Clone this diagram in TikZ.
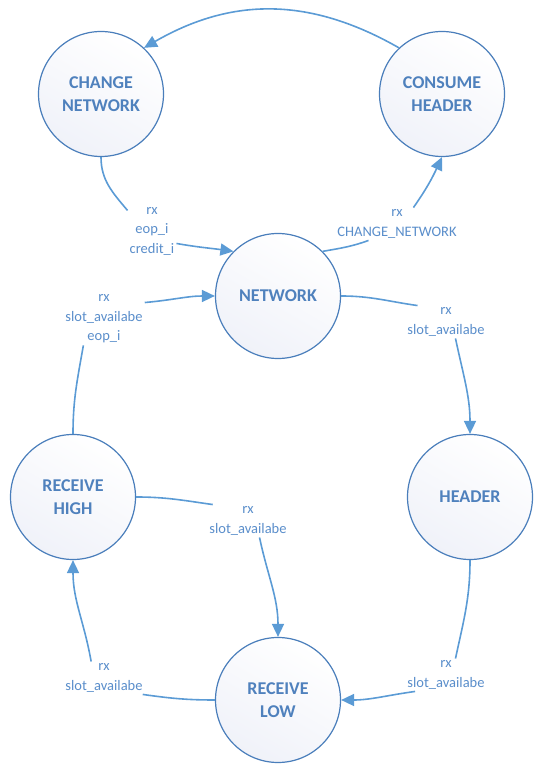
\documentclass[tikz,border=0pt]{standalone}
\usepackage{fontspec}
\setmainfont{Carlito}
\usetikzlibrary{arrows.meta}
\definecolor{edgeblue}{HTML}{5B9BD5}
\definecolor{ringblue}{HTML}{4A7EBB}
\definecolor{textblue}{HTML}{4F81BD}
\definecolor{lblblue}{HTML}{5A8ECB}
\definecolor{fillhaze}{HTML}{F0F2F9}
\begin{document}
\begin{tikzpicture}[x=1pt,y=1pt,
  state/.style={circle, draw=ringblue, line width=1.2pt, minimum size=125pt,
    inner sep=0pt, align=center, text=textblue,
    top color=white, bottom color=fillhaze, shading angle=-30,
    font=\fontsize{18}{23.5}\selectfont\bfseries},
  lbl/.style={fill=white, inner sep=2pt, align=center, text=lblblue,
    font=\fontsize{14.5}{19.5}\selectfont},
  conn/.style={draw=edgeblue, line width=1.6pt},
  arr/.style={conn, -{Triangle[length=13pt,width=12pt]}}]
\useasboundingbox (0,0) rectangle (552,765);

% states
\node[state] (CN)  at (101,671) {CHANGE\\NETWORK};
\node[state] (CH)  at (442,671) {CONSUME\\HEADER};
\node[state] (N)   at (278,469) {NETWORK};
\node[state] (RH)  at (73,268)  {RECEIVE\\HIGH};
\node[state] (H)   at (470,268) {HEADER};
\node[state] (RL)  at (278,65)  {RECEIVE\\LOW};

% transition conditions
\node[lbl] (Lcn)  at (152,534) {rx\\eop\_i\\credit\_i};
\node[lbl] (Lnc)  at (397,541) {rx\\CHANGE\_NETWORK};
\node[lbl] (Lrn)  at (104,446) {rx\\slot\_availabe\\eop\_i};
\node[lbl] (Lnh)  at (446,443) {rx\\slot\_availabe};
\node[lbl] (Lrhl) at (248,244) {rx\\slot\_availabe};
\node[lbl] (Lhl)  at (446,90)  {rx\\slot\_availabe};
\node[lbl] (Llh)  at (104,87)  {rx\\slot\_availabe};

% CONSUME HEADER -> CHANGE NETWORK
\draw[arr] (CH.133) .. controls (310,768) and (232,768) .. (CN.47);

% CHANGE NETWORK -> NETWORK
\draw[conn] (CN.south) to[out=-90,in=130] (Lcn.140);
\draw[arr] (Lcn.-27) to[out=-10,in=172] (N.135);

% NETWORK -> CONSUME HEADER
\draw[conn] (N.45) to[out=10,in=200] (Lnc.210);
\draw[arr] (Lnc.45) to[out=55,in=-115] (CH.south);

% RECEIVE HIGH -> NETWORK
\draw[conn] (RH.north) to[out=90,in=-100] (Lrn.232);
\draw[arr] (Lrn.22) to[out=5,in=180] (N.west);

% NETWORK -> HEADER
\draw[conn] (N.east) to[out=0,in=172] (Lnh.150);
\draw[arr] (Lnh.-60) to[out=-78,in=90] (H.north);

% RECEIVE HIGH -> RECEIVE LOW
\draw[conn] (RH.east) to[out=0,in=172] (Lrhl.155);
\draw[arr] (Lrhl.-55) to[out=-78,in=90] (RL.north);

% HEADER -> RECEIVE LOW
\draw[conn] (H.south) to[out=-90,in=78] (Lhl.60);
\draw[arr] (Lhl.208) to[out=188,in=0] (RL.east);

% RECEIVE LOW -> RECEIVE HIGH
\draw[conn] (RL.west) to[out=180,in=-8] (Llh.-23);
\draw[arr] (Llh.128) to[out=100,in=-90] (RH.south);
\end{tikzpicture}
\end{document}
